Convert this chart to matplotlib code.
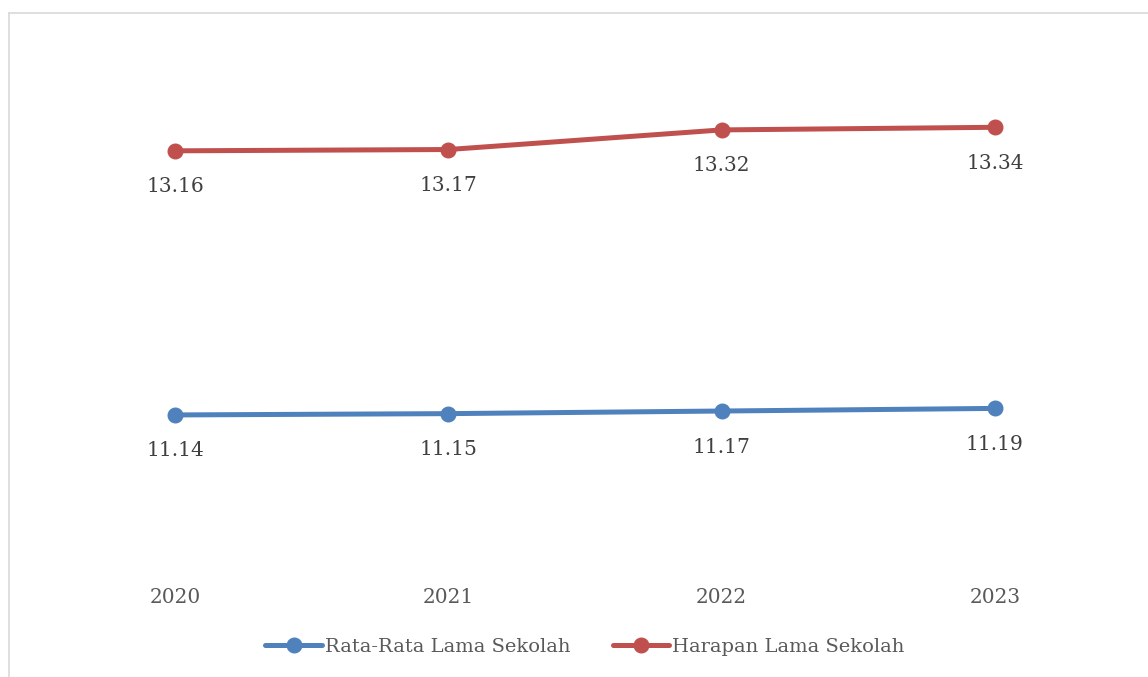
import matplotlib
matplotlib.use("Agg")
import matplotlib.pyplot as plt
from matplotlib.lines import Line2D

# values
years = ["2020", "2021", "2022", "2023"]
rls = [11.14, 11.15, 11.17, 11.19]   # Rata-Rata Lama Sekolah
hls = [13.16, 13.17, 13.32, 13.34]   # Harapan Lama Sekolah
series_names = ["Rata-Rata Lama Sekolah", "Harapan Lama Sekolah"]

BLUE = "#4F81BD"
RED = "#C0504D"
TXT = "#595959"
FONT = "DejaVu Serif"

W, H = 1148, 677
fig = plt.figure(figsize=(W / 100, H / 100), dpi=100)
# plot area in pixel terms (Excel-style, y 10..14, categories between ticks)
left, right, top, bottom = 38.5, 1131.5, 41, 564
ax = fig.add_axes([left / W, 1 - bottom / H, (right - left) / W, (bottom - top) / H])

x = list(range(len(years)))
for vals, col in ((rls, BLUE), (hls, RED)):
    ax.plot(x, vals, color=col, lw=3.6, marker="o", ms=10.5,
            solid_capstyle="round", zorder=3)
    for xi, v in zip(x, vals):
        ax.annotate(f"{v:.2f}", (xi, v), xytext=(0, -36), textcoords="offset pixels",
                    ha="center", va="center", fontsize=14.5, color="#404040",
                    family=FONT)

ax.set_xlim(-0.5, len(years) - 0.5)
ax.set_ylim(10, 14)
ax.set_xticks(x)
ax.set_xticklabels(years, family=FONT, fontsize=14.5, color=TXT)
ax.tick_params(axis="x", length=0, pad=17)
ax.set_yticks([])
for sp in ax.spines.values():
    sp.set_visible(False)

handles = [Line2D([], [], color=c, lw=3.6, marker="o", ms=10.5,
                  solid_capstyle="round") for c in (BLUE, RED)]
fig.legend(handles, series_names, loc="center", ncol=2,
           bbox_to_anchor=(585 / W, 1 - 647 / H), frameon=False,
           prop={"family": FONT, "size": 14}, labelcolor=TXT,
           handlelength=2.9, handletextpad=0.15, columnspacing=2.2)

# light chart-area border (top and left edges visible in the crop)
fig.add_artist(Line2D([8.5 / W, 1], [1 - 12.5 / H] * 2, color="#D9D9D9", lw=1.2,
                      transform=fig.transFigure))
fig.add_artist(Line2D([8.5 / W] * 2, [0, 1 - 12.5 / H], color="#D9D9D9", lw=1.2,
                      transform=fig.transFigure))

fig.savefig("out.png", dpi=100)
